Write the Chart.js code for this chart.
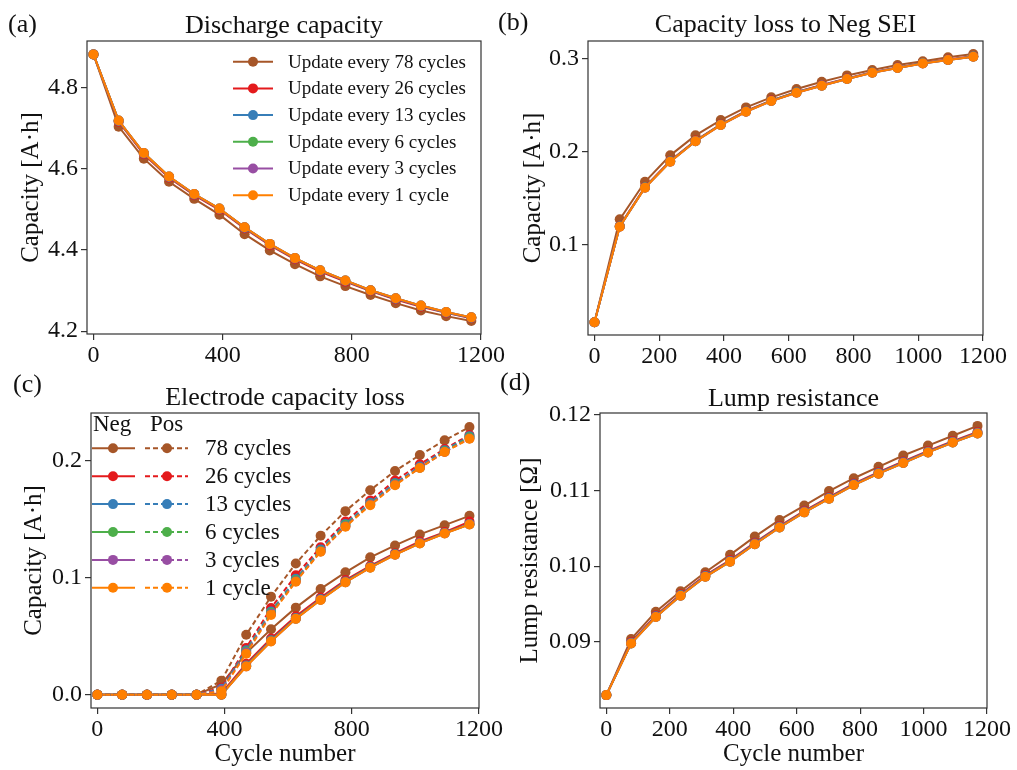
<!DOCTYPE html>
<html>
<head>
<meta charset="utf-8">
<title>Update frequency comparison</title>
<script src="https://cdn.jsdelivr.net/npm/chart.js@4.4.1/dist/chart.umd.min.js"></script>
<style>
  html, body { margin: 0; background: #fff; }
  #wrap { position: relative; width: 1017px; height: 770px; overflow: hidden; }
  canvas { position: absolute; }
</style>
</head>
<body>
<div id="wrap">
  <canvas id="chartA" width="508" height="380" style="left:0;top:0"></canvas>
  <canvas id="chartB" width="527" height="380" style="left:490px;top:0"></canvas>
  <canvas id="chartC" width="508" height="400" style="left:0;top:370px"></canvas>
  <canvas id="chartD" width="527" height="400" style="left:490px;top:370px"></canvas>
</div>
<script>
// cycle numbers where the model was sampled
const cycles = [0, 78, 156, 234, 312, 390, 468, 546, 624, 702, 780, 858, 936, 1014, 1092, 1170];

const updateNames = ['Update every 78 cycles', 'Update every 26 cycles', 'Update every 13 cycles',
  'Update every 6 cycles', 'Update every 3 cycles', 'Update every 1 cycle'];
const shortNames = ['78 cycles', '26 cycles', '13 cycles', '6 cycles', '3 cycles', '1 cycle'];
const colors = ['#a65628', '#e41a1c', '#377eb8', '#4daf4a', '#984ea3', '#ff7f00'];

// (a) discharge capacity [A.h]
const discharge78 = [4.882, 4.704, 4.625, 4.568, 4.526, 4.487, 4.439, 4.399, 4.365, 4.335, 4.311, 4.289, 4.269, 4.251, 4.237, 4.225];
const discharge26 = [4.882, 4.716, 4.636, 4.578, 4.535, 4.499, 4.453, 4.412, 4.377, 4.347, 4.322, 4.299, 4.278, 4.260, 4.245, 4.232];
const discharge13 = [4.882, 4.718, 4.638, 4.580, 4.537, 4.501, 4.455, 4.414, 4.379, 4.349, 4.324, 4.300, 4.280, 4.262, 4.246, 4.233];
const discharge6  = [4.882, 4.719, 4.639, 4.581, 4.538, 4.502, 4.456, 4.415, 4.380, 4.350, 4.325, 4.301, 4.281, 4.263, 4.247, 4.234];
const discharge3  = [4.882, 4.719, 4.639, 4.581, 4.538, 4.502, 4.456, 4.415, 4.380, 4.350, 4.325, 4.301, 4.281, 4.263, 4.247, 4.234];
const discharge1  = [4.882, 4.719, 4.639, 4.581, 4.538, 4.502, 4.456, 4.415, 4.380, 4.350, 4.325, 4.301, 4.281, 4.263, 4.247, 4.234];

// (b) capacity lost to negative SEI [A.h]
const sei78 = [0.017, 0.1276, 0.168, 0.1964, 0.2179, 0.2344, 0.248, 0.2588, 0.2677, 0.2756, 0.2824, 0.2882, 0.2935, 0.2975, 0.3018, 0.3054];
const sei26 = [0.017, 0.1205, 0.1625, 0.1905, 0.2124, 0.2298, 0.2441, 0.2556, 0.2646, 0.272, 0.2792, 0.2859, 0.2909, 0.2958, 0.2994, 0.303];
const sei13 = [0.017, 0.1200, 0.1620, 0.1900, 0.2119, 0.2294, 0.2437, 0.2552, 0.2642, 0.2716, 0.2788, 0.2856, 0.2906, 0.2955, 0.2991, 0.3027];
const sei6  = [0.017, 0.1198, 0.1618, 0.1898, 0.2117, 0.2292, 0.2435, 0.2550, 0.2640, 0.2714, 0.2786, 0.2854, 0.2904, 0.2954, 0.2990, 0.3026];
const sei3  = [0.017, 0.1197, 0.1616, 0.1896, 0.2115, 0.2290, 0.2433, 0.2548, 0.2638, 0.2713, 0.2785, 0.2853, 0.2903, 0.2953, 0.2989, 0.3025];
const sei1  = [0.017, 0.1197, 0.1616, 0.1896, 0.2115, 0.2290, 0.2433, 0.2548, 0.2638, 0.2713, 0.2785, 0.2853, 0.2903, 0.2953, 0.2989, 0.3025];

// (c) electrode capacity loss [A.h], negative (solid) and positive (dashed)
const neg78 = [0, 0, 0, 0, 0, 0.009, 0.0355, 0.056, 0.0744, 0.0904, 0.1046, 0.1174, 0.1276, 0.137, 0.1449, 0.1529];
const neg26 = [0, 0, 0, 0, 0, 0.001, 0.0265, 0.048, 0.067, 0.083, 0.098, 0.110, 0.121, 0.131, 0.139, 0.148];
const neg13 = [0, 0, 0, 0, 0, 0, 0.025, 0.0465, 0.0655, 0.0818, 0.0968, 0.1092, 0.1202, 0.1298, 0.1383, 0.146];
const neg6  = [0, 0, 0, 0, 0, 0, 0.0245, 0.046, 0.065, 0.0812, 0.0962, 0.1088, 0.1198, 0.1295, 0.138, 0.1457];
const neg3  = [0, 0, 0, 0, 0, 0, 0.0242, 0.0457, 0.0649, 0.0811, 0.0961, 0.1087, 0.1197, 0.1294, 0.1379, 0.1456];
const neg1  = [0, 0, 0, 0, 0, 0, 0.0241, 0.0455, 0.0648, 0.081, 0.096, 0.1086, 0.1196, 0.1293, 0.1378, 0.1455];
const pos78 = [0, 0, 0, 0, 0, 0.012, 0.0512, 0.0838, 0.1122, 0.1358, 0.1569, 0.1748, 0.1912, 0.2049, 0.2174, 0.2288];
const pos26 = [0, 0, 0, 0, 0, 0.006, 0.040, 0.074, 0.102, 0.126, 0.148, 0.166, 0.183, 0.197, 0.210, 0.222];
const pos13 = [0, 0, 0, 0, 0, 0.005, 0.038, 0.071, 0.099, 0.124, 0.146, 0.164, 0.181, 0.195, 0.209, 0.221];
const pos6  = [0, 0, 0, 0, 0, 0.004, 0.037, 0.070, 0.098, 0.123, 0.145, 0.163, 0.180, 0.194, 0.208, 0.220];
const pos3  = [0, 0, 0, 0, 0, 0.004, 0.036, 0.069, 0.097, 0.1225, 0.144, 0.1625, 0.1795, 0.194, 0.2075, 0.219];
const pos1  = [0, 0, 0, 0, 0, 0.003, 0.035, 0.0682, 0.0966, 0.1222, 0.1435, 0.162, 0.179, 0.1938, 0.2074, 0.2188];

// (d) lump resistance [Ohm]
const res78 = [0.083, 0.0904, 0.094, 0.0967, 0.0992, 0.1015, 0.1039, 0.1061, 0.108, 0.1099, 0.1116, 0.1131, 0.1146, 0.1159, 0.1172, 0.1185];
const res26 = [0.083, 0.0900, 0.0935, 0.0963, 0.0988, 0.1008, 0.1031, 0.1053, 0.1073, 0.1091, 0.1109, 0.1124, 0.1138, 0.1152, 0.1165, 0.1177];
const res13 = [0.083, 0.0899, 0.0934, 0.0962, 0.0987, 0.1007, 0.1030, 0.1052, 0.1072, 0.1090, 0.1108, 0.1123, 0.1137, 0.1151, 0.1164, 0.1176];
const res6  = [0.083, 0.0898, 0.0933, 0.0961, 0.0986, 0.1006, 0.1029, 0.1051, 0.1071, 0.1089, 0.1107, 0.1122, 0.1136, 0.1150, 0.1163, 0.1175];
const res3  = [0.083, 0.0898, 0.0933, 0.0961, 0.0986, 0.1006, 0.1029, 0.1051, 0.1071, 0.1089, 0.1107, 0.1122, 0.1136, 0.1150, 0.1163, 0.1175];
const res1  = [0.083, 0.0898, 0.0933, 0.0961, 0.0986, 0.1006, 0.1029, 0.1051, 0.1071, 0.1089, 0.1107, 0.1122, 0.1136, 0.1150, 0.1163, 0.1175];

// tick labels
const xTicksWide = [0, 400, 800, 1200];
const xTicksFine = [0, 200, 400, 600, 800, 1000, 1200];
const yTicksA = [4.2, 4.4, 4.6, 4.8];
const yTicksB = [0.1, 0.2, 0.3];
const yTicksC = [0.0, 0.1, 0.2];
const yTicksD = [0.09, 0.10, 0.11, 0.12];

const serif = '"Liberation Serif", "Times New Roman", serif';
const ink = '#111';
const axisColor = '#333';
const dotRadius = 5;

Chart.defaults.font.family = serif;
Chart.defaults.color = ink;

function toPoints(values) {
  return values.map((v, k) => ({ x: cycles[k], y: v }));
}

function lineSets(seriesList, dashed) {
  return seriesList.map((values, i) => ({
    label: (dashed ? 'Pos ' : '') + updateNames[i],
    data: toPoints(values),
    borderColor: colors[i],
    backgroundColor: colors[i],
    pointBackgroundColor: colors[i],
    pointBorderColor: colors[i],
    pointBorderWidth: 0,
    pointRadius: dotRadius,
    borderWidth: 2,
    borderDash: dashed ? [5, 3] : [],
    order: (seriesList.length - 1 - i) + (dashed ? 0 : 10)
  }));
}

function dot(ctx, x, y, color) {
  ctx.fillStyle = color;
  ctx.beginPath();
  ctx.arc(x, y, dotRadius, 0, Math.PI * 2);
  ctx.fill();
}

// frame, title, panel tag and hand-drawn legends
const deco = {
  id: 'deco',
  afterDraw(chart, args, o) {
    const { ctx, chartArea: a } = chart;
    ctx.save();
    ctx.strokeStyle = axisColor;
    ctx.lineWidth = 1.2;
    ctx.strokeRect(a.left, a.top, a.right - a.left, a.bottom - a.top);

    ctx.fillStyle = ink;
    ctx.font = '26px ' + serif;
    ctx.textBaseline = 'middle';
    ctx.textAlign = 'center';
    ctx.fillText(o.title, (a.left + a.right) / 2, o.titleY);
    ctx.textAlign = 'left';
    ctx.fillText(o.tag, o.tagX, o.tagY);

    if (o.legend === 'update') {
      ctx.font = '19px ' + serif;
      updateNames.forEach((name, i) => {
        const y = 61.7 + i * 26.7;
        ctx.strokeStyle = colors[i];
        ctx.lineWidth = 2;
        ctx.beginPath(); ctx.moveTo(233, y); ctx.lineTo(273, y); ctx.stroke();
        dot(ctx, 253, y, colors[i]);
        ctx.fillStyle = ink;
        ctx.fillText(name, 288, y + 1);
      });
    }
    if (o.legend === 'electrode') {
      ctx.font = '23px ' + serif;
      ctx.fillStyle = ink;
      ctx.fillText('Neg', 93, 55);
      ctx.fillText('Pos', 150, 55);
      shortNames.forEach((name, i) => {
        const y = 78.3 + i * 27.9;
        ctx.strokeStyle = colors[i];
        ctx.lineWidth = 2;
        ctx.setLineDash([]);
        ctx.beginPath(); ctx.moveTo(92, y); ctx.lineTo(135, y); ctx.stroke();
        dot(ctx, 113, y, colors[i]);
        ctx.setLineDash([5, 3]);
        ctx.beginPath(); ctx.moveTo(145, y); ctx.lineTo(188, y); ctx.stroke();
        ctx.setLineDash([]);
        dot(ctx, 167, y, colors[i]);
        ctx.fillStyle = ink;
        ctx.fillText(name, 205, y + 1);
      });
    }
    ctx.restore();
  }
};

function makeChart(id, o) {
  const tickGrid = { display: true, drawOnChartArea: false, drawTicks: true, tickLength: 6, color: axisColor, lineWidth: 1.2 };
  new Chart(document.getElementById(id), {
    type: 'line',
    data: { datasets: o.datasets },
    options: {
      responsive: false,
      animation: false,
      events: [],
      layout: { padding: { left: 0, top: o.top, right: o.right, bottom: 0 } },
      plugins: {
        legend: { display: false },
        tooltip: { enabled: false },
        deco: o.deco
      },
      scales: {
        x: {
          type: 'linear',
          min: -20,
          max: 1200,
          afterBuildTicks: s => { s.ticks = o.xTicks.map(v => ({ value: v })); },
          afterFit: s => { s.height = o.xh; s.paddingLeft = 0; s.paddingRight = 0; },
          grid: tickGrid,
          border: { display: false },
          ticks: { font: { size: 24, lineHeight: 1 }, color: ink, padding: 4, maxRotation: 0, autoSkip: false, callback: v => String(v) },
          title: o.xTitle ? { display: true, text: o.xTitle, font: { size: 25 }, color: ink, padding: { top: 0, bottom: 1 } } : { display: false }
        },
        y: {
          type: 'linear',
          min: o.yMin,
          max: o.yMax,
          afterBuildTicks: s => { s.ticks = o.yTicks.map(v => ({ value: v })); },
          afterFit: s => { s.width = o.yw; s.paddingTop = 0; s.paddingBottom = 0; },
          grid: tickGrid,
          border: { display: false },
          ticks: { font: { size: 24 }, color: ink, padding: 3, callback: v => v.toFixed(o.dec) },
          title: { display: true, text: o.yTitle, font: { size: 25 }, color: ink, padding: { top: o.yTitlePad, bottom: 0 } }
        }
      }
    },
    plugins: [deco]
  });
}

makeChart('chartA', {
  datasets: lineSets([discharge78, discharge26, discharge13, discharge6, discharge3, discharge1], false),
  top: 41, right: 27, xh: 46, yw: 87, yTitlePad: 16,
  yMin: 4.193, yMax: 4.915, yTicks: yTicksA, dec: 1, xTicks: xTicksWide,
  yTitle: 'Capacity [A·h]',
  deco: { title: 'Discharge capacity', titleY: 26, tag: '(a)', tagX: 8, tagY: 25, legend: 'update' }
});

makeChart('chartB', {
  datasets: lineSets([sei78, sei26, sei13, sei6, sei3, sei1], false),
  top: 41, right: 34, xh: 45, yw: 98, yTitlePad: 28,
  yMin: 0.0032, yMax: 0.3194, yTicks: yTicksB, dec: 1, xTicks: xTicksFine,
  yTitle: 'Capacity [A·h]',
  deco: { title: 'Capacity loss to Neg SEI', titleY: 25, tag: '(b)', tagX: 8, tagY: 23 }
});

makeChart('chartC', {
  datasets: lineSets([neg78, neg26, neg13, neg6, neg3, neg1], false)
    .concat(lineSets([pos78, pos26, pos13, pos6, pos3, pos1], true)),
  top: 43, right: 29, xh: 62, yw: 91, yTitlePad: 19,
  yMin: -0.0114, yMax: 0.2408, yTicks: yTicksC, dec: 1, xTicks: xTicksWide,
  yTitle: 'Capacity [A·h]', xTitle: 'Cycle number',
  deco: { title: 'Electrode capacity loss', titleY: 28, tag: '(c)', tagX: 13, tagY: 15, legend: 'electrode' }
});

makeChart('chartD', {
  datasets: lineSets([res78, res26, res13, res6, res3, res1], false),
  top: 43, right: 30, xh: 62, yw: 110, yTitlePad: 25,
  yMin: 0.0813, yMax: 0.1202, yTicks: yTicksD, dec: 2, xTicks: xTicksFine,
  yTitle: 'Lump resistance [Ω]', xTitle: 'Cycle number',
  deco: { title: 'Lump resistance', titleY: 29, tag: '(d)', tagX: 10, tagY: 13 }
});
</script>
</body>
</html>
